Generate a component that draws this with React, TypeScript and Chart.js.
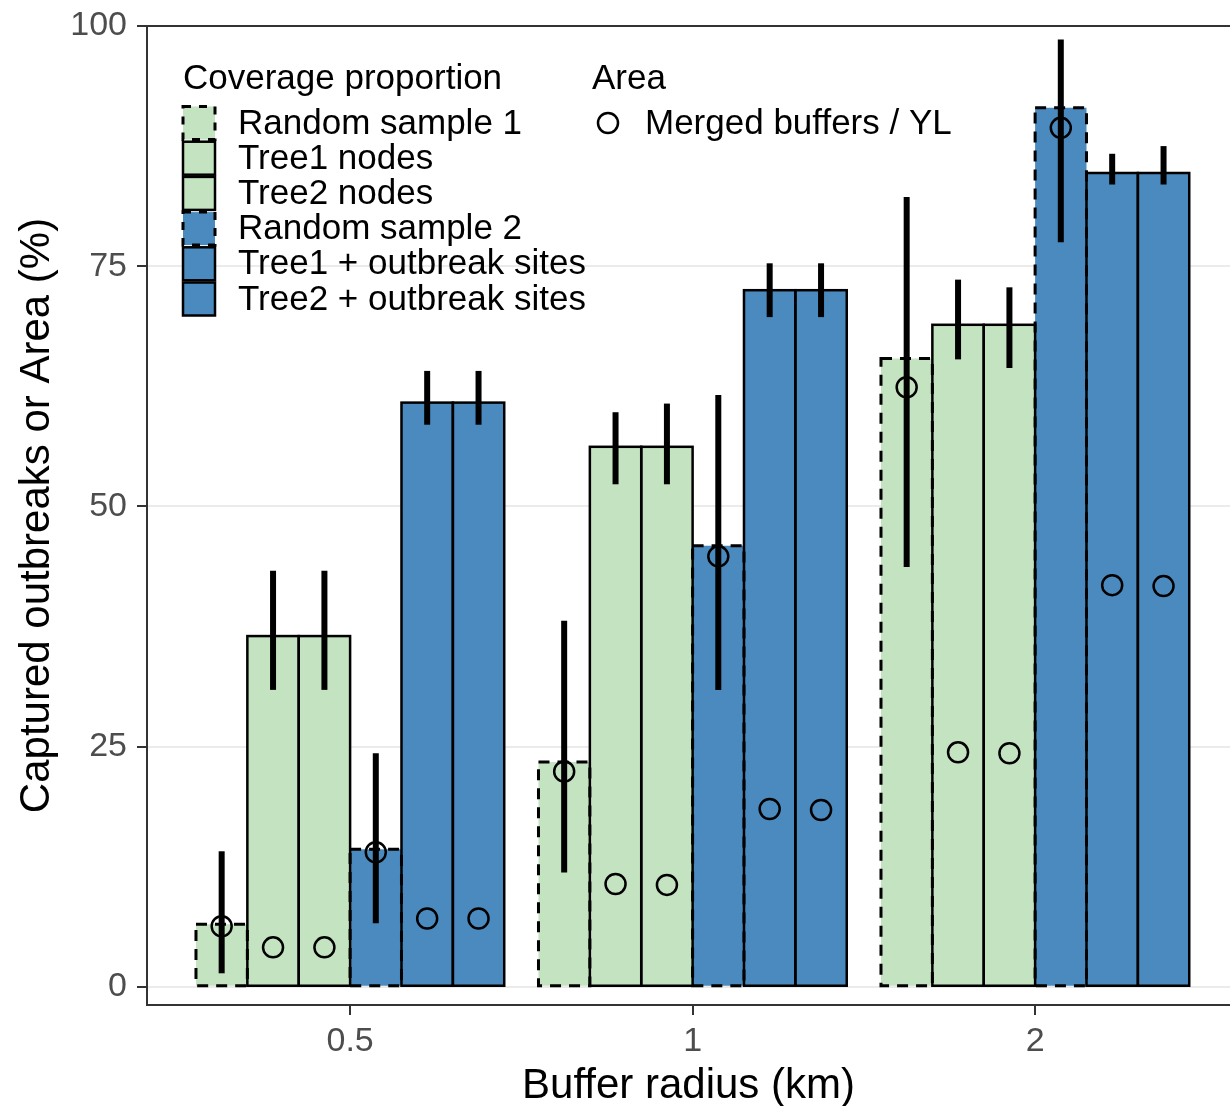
import React, { useEffect, useRef } from 'react';
import { Chart, registerables } from 'chart.js';
Chart.register(...registerables);

const FONT = '"Liberation Sans", Arial, Helvetica, sans-serif';

// Categories (buffer radius, km) and their positions on the x scale
const groups = ['0.5', '1', '2'];
const groupPos = [1, 2, 3];
const yTicks = [0, 25, 50, 75, 100];

// Series
const seriesNames = [
  'Random sample 1',
  'Tree1 nodes',
  'Tree2 nodes',
  'Random sample 2',
  'Tree1 + outbreak sites',
  'Tree2 + outbreak sites',
];
const GREEN = '#c4e3c0';
const BLUE = '#4a8abe';
const seriesColors = [GREEN, GREEN, GREEN, BLUE, BLUE, BLUE];
const seriesDashed = [true, false, false, true, false, false];

// Captured outbreaks (%) – bar heights
const rs1 = [6.5, 23.4, 65.4];
const tree1 = [36.5, 56.2, 68.9];
const tree2 = [36.5, 56.2, 68.9];
const rs2 = [14.3, 45.9, 91.5];
const tree1Out = [60.8, 72.5, 84.7];
const tree2Out = [60.8, 72.5, 84.7];

// Error bar lower / upper limits
const rs1Low = [1.4, 11.9, 43.7];
const rs1High = [14.1, 38.1, 82.2];
const tree1Low = [30.9, 52.3, 65.3];
const tree1High = [43.3, 59.8, 73.6];
const tree2Low = [30.9, 52.3, 64.4];
const tree2High = [43.3, 60.7, 72.8];
const rs2Low = [6.6, 30.9, 77.5];
const rs2High = [24.3, 61.6, 98.6];
const tree1OutLow = [58.5, 69.7, 83.5];
const tree1OutHigh = [64.1, 75.3, 86.7];
const tree2OutLow = [58.5, 69.7, 83.5];
const tree2OutHigh = [64.1, 75.3, 87.5];

// Area (%) – merged buffers / YL (circles)
const rs1Area = [6.3, 22.4, 62.4];
const tree1Area = [4.1, 10.7, 24.4];
const tree2Area = [4.1, 10.6, 24.3];
const rs2Area = [14.0, 44.8, 89.4];
const tree1OutArea = [7.1, 18.5, 41.8];
const tree2OutArea = [7.1, 18.4, 41.7];

const seriesValues = [rs1, tree1, tree2, rs2, tree1Out, tree2Out];
const seriesLow = [rs1Low, tree1Low, tree2Low, rs2Low, tree1OutLow, tree2OutLow];
const seriesHigh = [rs1High, tree1High, tree2High, rs2High, tree1OutHigh, tree2OutHigh];
const seriesArea = [rs1Area, tree1Area, tree2Area, rs2Area, tree1OutArea, tree2OutArea];

const overlayPlugin = {
  id: 'overlay',
  afterDatasetsDraw(chart: any) {
    const ctx = chart.ctx as CanvasRenderingContext2D;
    const ys = chart.scales.y;
    ctx.save();
    // bar outlines
    chart.data.datasets.forEach((_ds: any, i: number) => {
      const meta = chart.getDatasetMeta(i);
      meta.data.forEach((el: any) => {
        const p = el.getProps(['x', 'y', 'base', 'width'], true);
        ctx.strokeStyle = '#000';
        if (seriesDashed[i]) {
          ctx.lineWidth = 3;
          ctx.setLineDash([11, 8]);
        } else {
          ctx.lineWidth = 2.5;
          ctx.setLineDash([]);
        }
        ctx.strokeRect(p.x - p.width / 2, p.y, p.width, p.base - p.y);
      });
    });
    ctx.setLineDash([]);
    // error bars
    chart.data.datasets.forEach((_ds: any, i: number) => {
      const meta = chart.getDatasetMeta(i);
      meta.data.forEach((el: any, j: number) => {
        const x = el.getProps(['x'], true).x;
        ctx.beginPath();
        ctx.lineWidth = 6;
        ctx.lineCap = 'butt';
        ctx.strokeStyle = '#000';
        ctx.moveTo(x, ys.getPixelForValue(seriesLow[i][j]));
        ctx.lineTo(x, ys.getPixelForValue(seriesHigh[i][j]));
        ctx.stroke();
      });
    });
    // area circles
    chart.data.datasets.forEach((_ds: any, i: number) => {
      const meta = chart.getDatasetMeta(i);
      meta.data.forEach((el: any, j: number) => {
        const x = el.getProps(['x'], true).x;
        ctx.beginPath();
        ctx.lineWidth = 2.5;
        ctx.strokeStyle = '#000';
        ctx.arc(x, ys.getPixelForValue(seriesArea[i][j]), 10, 0, Math.PI * 2);
        ctx.stroke();
      });
    });
    ctx.restore();
  },
  afterDraw(chart: any) {
    const ctx = chart.ctx as CanvasRenderingContext2D;
    ctx.save();
    ctx.fillStyle = '#000';
    ctx.textBaseline = 'middle';
    ctx.textAlign = 'left';
    ctx.font = `35px ${FONT}`;
    ctx.fillText('Coverage proportion', 183, 79);
    ctx.fillText('Area', 592, 79);
    const rowH = 35.2;
    seriesNames.forEach((name, i) => {
      const cy = 123 + i * rowH;
      const kx = 183;
      const kw = 32;
      const kh = 33;
      ctx.fillStyle = seriesColors[i];
      ctx.fillRect(kx, cy - kh / 2, kw, kh);
      ctx.strokeStyle = '#000';
      if (seriesDashed[i]) {
        ctx.lineWidth = 3;
        ctx.setLineDash([8, 8]);
      } else {
        ctx.lineWidth = 2.5;
        ctx.setLineDash([]);
      }
      ctx.strokeRect(kx, cy - kh / 2, kw, kh);
      ctx.setLineDash([]);
      ctx.fillStyle = '#000';
      ctx.fillText(name, 238, cy + 1);
    });
    ctx.beginPath();
    ctx.lineWidth = 2.5;
    ctx.arc(608, 123, 10, 0, Math.PI * 2);
    ctx.stroke();
    ctx.fillText('Merged buffers / YL', 645, 124);
    ctx.restore();
  },
};

export default function App() {
  const ref = useRef<HTMLCanvasElement>(null);
  useEffect(() => {
    if (!ref.current) return;
    const datasets = seriesNames.map((name, i) => ({
      label: name,
      data: seriesValues[i].map((v, j) => ({ x: groupPos[j], y: v })),
      backgroundColor: seriesColors[i],
      borderWidth: 0,
      categoryPercentage: 0.9,
      barPercentage: 1,
    }));
    const chart = new Chart(ref.current, {
      type: 'bar',
      data: { datasets },
      plugins: [overlayPlugin],
      options: {
        responsive: false,
        animation: false,
        layout: { padding: { top: 26, right: 0, bottom: 0, left: 0 } },
        plugins: { legend: { display: false }, tooltip: { enabled: false } },
        scales: {
          x: {
            type: 'linear',
            min: 0.407,
            max: 3.569,
            offset: false,
            afterBuildTicks: (s: any) => {
              s.ticks = groupPos.map((v) => ({ value: v }));
            },
            afterFit: (s: any) => {
              s.height = 101;
              s.paddingLeft = 0;
              s.paddingRight = 0;
            },
            ticks: {
              callback: (v: any) => {
                const k = groupPos.indexOf(Number(v));
                return k >= 0 ? groups[k] : '';
              },
              font: { family: FONT, size: 34 },
              color: '#4d4d4d',
              padding: 6,
              maxRotation: 0,
              autoSkip: false,
            },
            grid: {
              display: true,
              drawOnChartArea: false,
              drawTicks: true,
              tickLength: 10,
              tickColor: '#333333',
              lineWidth: 2,
              offset: false,
            },
            border: { display: true, color: '#333333', width: 2 },
            title: {
              display: true,
              text: 'Buffer radius (km)',
              font: { family: FONT, size: 42 },
              color: '#000',
              padding: { top: 0, bottom: -6 },
            },
          },
          y: {
            min: -1.9,
            max: 100,
            afterBuildTicks: (s: any) => {
              s.ticks = yTicks.map((v) => ({ value: v }));
            },
            afterFit: (s: any) => {
              s.width = 147;
              s.paddingTop = 0;
              s.paddingBottom = 0;
            },
            ticks: {
              font: { family: FONT, size: 34 },
              color: '#4d4d4d',
              padding: 10,
            },
            grid: {
              color: (c: any) => (c.tick && c.tick.value === 100 ? '#333333' : '#ebebeb'),
              tickColor: '#333333',
              tickLength: 10,
              lineWidth: 2,
            },
            border: { display: true, color: '#333333', width: 2 },
            title: {
              display: true,
              text: 'Captured outbreaks or Area (%)',
              font: { family: FONT, size: 42 },
              color: '#000',
              padding: { top: 12, bottom: 0 },
            },
          },
        },
      },
    } as any);
    return () => chart.destroy();
  }, []);
  return (
    <div style={{ position: 'fixed', left: 0, top: 0, width: 1230, height: 1106, background: '#fff' }}>
      <canvas ref={ref} width={1230} height={1106} style={{ display: 'block', width: 1230, height: 1106 }} />
    </div>
  );
}
